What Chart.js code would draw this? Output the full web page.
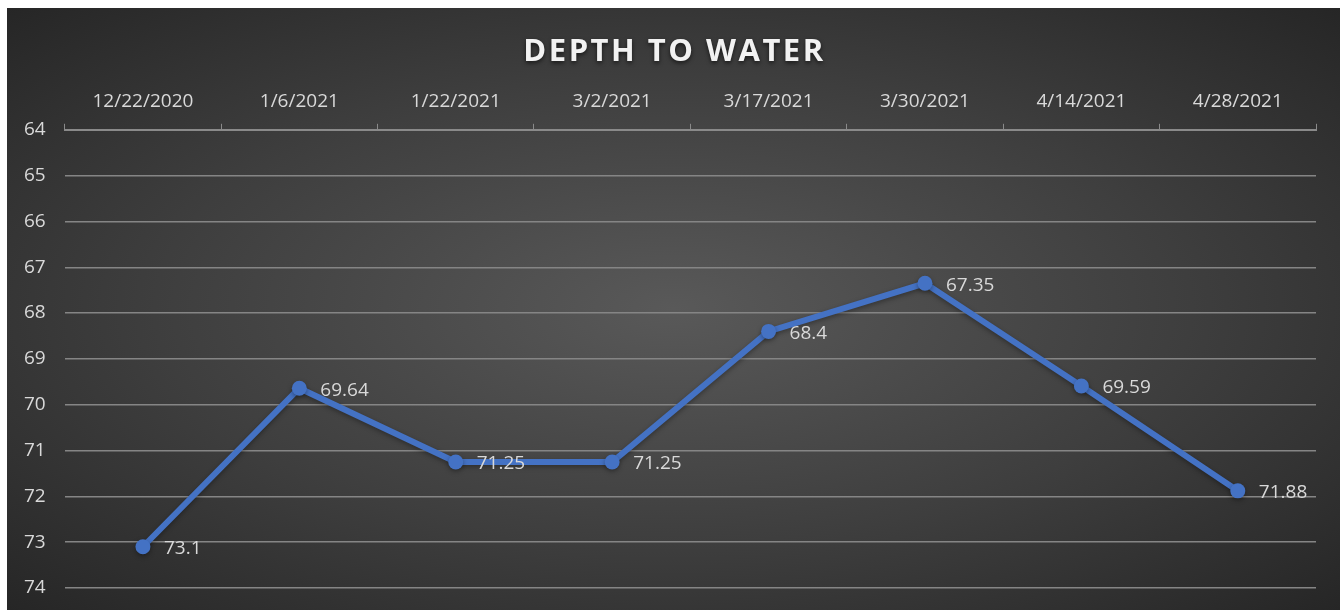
<!DOCTYPE html>
<html lang="en">
<head>
    <meta charset="UTF-8">
    <title>Depth to Water</title>
    <script src="https://cdn.jsdelivr.net/npm/chart.js"></script>
    <style>
        body { margin: 0; background: #ffffff; }
        .chart-box {
            position: absolute;
            left: 7px;
            top: 8px;
            width: 1333px;
            height: 602px;
            background: radial-gradient(ellipse at 50% 50%, #595959 0%, #3e3e3e 55%, #262626 100%);
        }
    </style>
</head>
<body>
    <div class="chart-box">
        <canvas id="depthChart" width="1333" height="602"></canvas>
    </div>

    <script>
        const dates = ['12/22/2020', '1/6/2021', '1/22/2021', '3/2/2021', '3/17/2021', '3/30/2021', '4/14/2021', '4/28/2021'];
        const depths = [73.1, 69.64, 71.25, 71.25, 68.4, 67.35, 69.59, 71.88];
        const chartTitle = 'DEPTH TO WATER';

        // draws the value next to each point, like excel data labels (right)
        const pointLabels = {
            id: 'pointLabels',
            afterDatasetsDraw(chart) {
                const ctx = chart.ctx;
                const meta = chart.getDatasetMeta(0);
                ctx.save();
                ctx.font = '19px "Open Sans"';
                ctx.fillStyle = '#d9d9d9';
                ctx.textAlign = 'left';
                ctx.textBaseline = 'middle';
                meta.data.forEach((pt, i) => {
                    ctx.fillText(String(depths[i]), pt.x + 21, pt.y + 2);
                });
                ctx.restore();
            }
        };

        // spaced-out title with a soft shadow
        const spacedTitle = {
            id: 'spacedTitle',
            afterDraw(chart) {
                const ctx = chart.ctx;
                ctx.save();
                ctx.font = 'bold 31px "Open Sans"';
                ctx.letterSpacing = '2.5px';
                ctx.fillStyle = '#f2f2f2';
                ctx.textAlign = 'center';
                ctx.textBaseline = 'middle';
                ctx.shadowColor = 'rgba(0,0,0,0.6)';
                ctx.shadowBlur = 4;
                ctx.shadowOffsetY = 2;
                ctx.fillText(chartTitle, chart.width / 2 + 1, 44);
                ctx.restore();
            }
        };

        const lineShadow = {
            id: 'lineShadow',
            beforeDatasetsDraw(chart) {
                chart.ctx.save();
                chart.ctx.shadowColor = 'rgba(0,0,0,0.35)';
                chart.ctx.shadowBlur = 5;
                chart.ctx.shadowOffsetY = 2;
            },
            afterDatasetsDraw(chart) {
                chart.ctx.restore();
            }
        };

        new Chart(document.getElementById('depthChart'), {
            type: 'line',
            data: {
                labels: dates,
                datasets: [{
                    data: depths,
                    borderColor: '#4472c4',
                    backgroundColor: '#4472c4',
                    borderWidth: 6,
                    pointRadius: 7.5,
                    pointHoverRadius: 7.5,
                    pointBorderWidth: 0,
                    tension: 0
                }]
            },
            options: {
                responsive: false,
                animation: false,
                layout: {
                    padding: { top: 71, left: -2, right: 24, bottom: 22 }
                },
                plugins: {
                    legend: { display: false },
                    title: { display: false },
                    tooltip: { enabled: false }
                },
                scales: {
                    x: {
                        position: 'top',
                        offset: true,
                        grid: {
                            offset: true,
                            drawOnChartArea: false,
                            tickLength: 6,
                            color: '#8a8a8a'
                        },
                        border: { display: true, color: '#8a8a8a', width: 2 },
                        ticks: {
                            color: '#d9d9d9',
                            font: { family: 'Open Sans', size: 19 },
                            padding: 11,
                            maxRotation: 0
                        }
                    },
                    y: {
                        reverse: true,
                        min: 64,
                        max: 74,
                        // don't let the end labels push the plot area in
                        afterFit(scale) {
                            scale.paddingTop = 0;
                            scale.paddingBottom = 0;
                        },
                        ticks: {
                            stepSize: 1,
                            color: '#d9d9d9',
                            font: { family: 'Open Sans', size: 19 },
                            padding: 19
                        },
                        grid: {
                            color: '#858585',
                            lineWidth: 1.5,
                            drawTicks: false
                        },
                        border: { display: false }
                    }
                }
            },
            plugins: [lineShadow, pointLabels, spacedTitle]
        });
    </script>
</body>
</html>
